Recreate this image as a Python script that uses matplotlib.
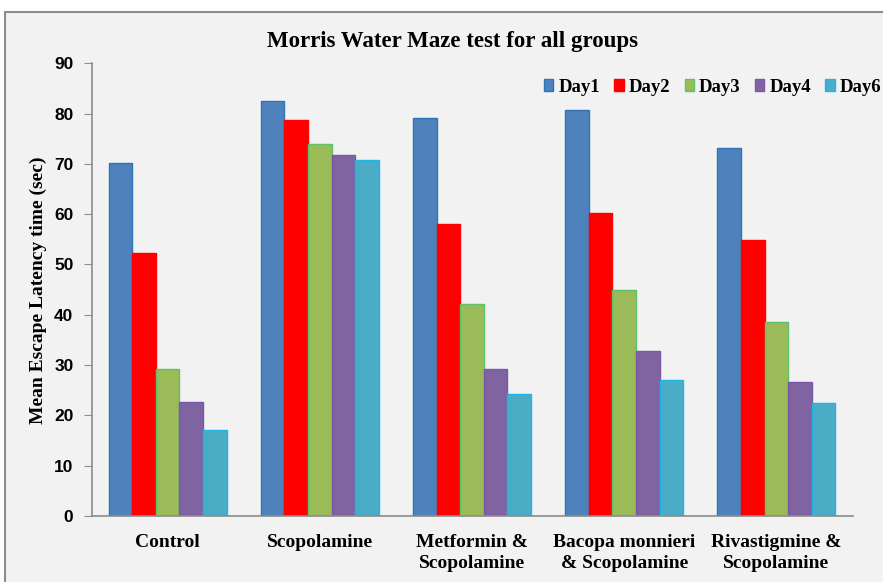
import matplotlib
matplotlib.use("Agg")
import matplotlib.pyplot as plt
import numpy as np
from matplotlib.patches import Rectangle

categories = ["Control", "Scopolamine", "Metformin &\nScopolamine",
              "Bacopa monnieri\n& Scopolamine", "Rivastigmine &\nScopolamine"]
series_names = ["Day1", "Day2", "Day3", "Day4", "Day6"]
day1 = [70.2, 82.6, 79.2, 80.7, 73.1]
day2 = [52.3, 78.7, 58.0, 60.3, 54.8]
day3 = [29.2, 74.0, 42.1, 44.9, 38.6]
day4 = [22.7, 71.8, 29.2, 32.8, 26.6]
day6 = [17.0, 70.7, 24.3, 27.0, 22.4]
series = [day1, day2, day3, day4, day6]
yticks = [0, 10, 20, 30, 40, 50, 60, 70, 80, 90]

colors = ["#4f81bd", "#ff0000", "#9bbb59", "#8064a2", "#4bacc6"]
edges = ["#2e75b6", "#ff0000", "#5cc36a", "#7a57a8", "#1fb4e8"]

W, H = 883, 582
fig = plt.figure(figsize=(W/100, H/100), dpi=100)
fig.patch.set_facecolor("white")
bg = Rectangle((5/W, -0.01), 1.0, 1 - 12/H + 0.01, transform=fig.transFigure,
               facecolor="#f2f2f2", edgecolor="#8c8c8c", linewidth=1.5, zorder=-5)
fig.patches.append(bg)

ax = fig.add_axes([91.5/W, 1 - 516/H, (852.5 - 91.5)/W, (516 - 63.3)/H])
ax.set_facecolor("none")
ax.set_zorder(2)

n = len(series)
group_w = 0.776
bw = group_w / n
x = np.arange(len(categories))
for i, (vals, name) in enumerate(zip(series, series_names)):
    ax.bar(x - group_w/2 + bw*(i + 0.5), vals, width=bw, color=colors[i],
           edgecolor=edges[i], linewidth=1.0, label=name, zorder=2)

ax.set_xlim(-0.5, len(categories) - 0.5)
ax.set_ylim(0, 90)
ax.set_yticks(yticks)
ax.set_yticklabels([str(t) for t in yticks], fontfamily="Liberation Sans",
                   fontweight="bold", fontsize=12.5)
ax.set_xticks(x)
ax.set_xticklabels(categories, fontfamily="Liberation Serif", fontweight="bold",
                   fontsize=14, linespacing=1.32)
ax.tick_params(axis="x", length=0, pad=13)
ax.tick_params(axis="y", length=6, color="#8c8c8c", direction="out", pad=7)
for s in ["top", "right"]:
    ax.spines[s].set_visible(False)
for s in ["left", "bottom"]:
    ax.spines[s].set_color("#8c8c8c")
    ax.spines[s].set_linewidth(1.2)

fig.text(38/W, 1 - 290/H, "Mean Escape Latency time (sec)", rotation=90,
         ha="center", va="center", fontfamily="Liberation Serif",
         fontweight="bold", fontsize=14, zorder=3)

fig.text(452/W, 1 - 42/H, "Morris Water Maze test for all groups",
         ha="center", va="center", fontfamily="Liberation Serif",
         fontweight="bold", fontsize=16.5, zorder=3)

leg = ax.legend(loc="center left", bbox_to_anchor=(544/W, 1 - 87/H),
                bbox_transform=fig.transFigure, ncol=5,
                frameon=False, prop={"family": "Liberation Serif", "weight": "bold",
                                     "size": 13.5},
                handlelength=0.5, handleheight=0.64, handletextpad=0.27,
                columnspacing=0.76, borderaxespad=0, borderpad=0)

fig.savefig("out.png", dpi=100, facecolor=fig.get_facecolor())
